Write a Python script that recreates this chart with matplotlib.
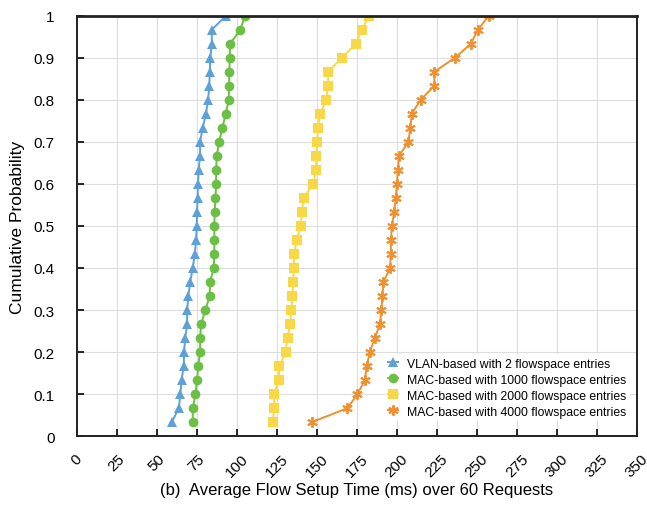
import numpy as np
import matplotlib
matplotlib.use('Agg')
import matplotlib.pyplot as plt

plt.rcParams['font.family'] = ['Liberation Sans', 'DejaVu Sans']

# cumulative probability levels (30 requests per curve)
prob = np.arange(1, 31) / 30.0

# flow setup times (ms), sorted
vlan_2 = [59.4, 63.8, 64.8, 65.5, 66.9, 67.1, 67.8, 69.0, 69.0, 69.8,
          70.9, 72.5, 73.8, 74.6, 75.0, 75.2, 75.5, 75.8, 76.2, 77.1,
          77.1, 78.7, 80.8, 82.1, 82.9, 83.1, 83.5, 84.4, 84.4, 93.3]
mac_1000 = [72.5, 72.5, 74.2, 75.2, 75.9, 77.1, 77.1, 77.7, 80.4, 83.1,
            83.3, 85.6, 86.0, 86.0, 86.0, 86.2, 86.7, 87.1, 87.1, 87.5,
            89.0, 91.0, 93.1, 95.0, 95.2, 95.4, 95.6, 95.8, 102.2, 105.2]
mac_2000 = [122.6, 123.4, 123.4, 126.1, 126.7, 130.5, 131.7, 133.4, 134.0, 134.7,
            135.3, 135.5, 135.9, 137.4, 140.1, 140.7, 141.7, 147.8, 149.6, 149.8,
            150.2, 150.7, 152.1, 155.9, 157.1, 157.1, 165.6, 174.4, 178.1, 182.7]
mac_4000 = [146.9, 169.1, 175.4, 180.0, 181.2, 183.1, 186.2, 189.5, 190.3, 191.0,
            191.6, 195.8, 196.2, 196.4, 196.8, 198.4, 199.3, 200.1, 200.6, 201.4,
            207.2, 208.4, 209.3, 214.9, 223.4, 223.4, 236.3, 246.3, 250.6, 257.5]

labels = ['VLAN-based with 2 flowspace entries',
          'MAC-based with 1000 flowspace entries',
          'MAC-based with 2000 flowspace entries',
          'MAC-based with 4000 flowspace entries']
colors = ['#5fa0d8', '#6cbf45', '#f9d848', '#f0902e']
markers = ['^', 'o', 's', (6, 2, 0)]

fig = plt.figure(figsize=(6.47, 5.06), dpi=100)
ax = fig.add_axes([0.1185, 0.136, 0.866, 0.831])

for data, lab, col, mk in zip([vlan_2, mac_1000, mac_2000, mac_4000], labels, colors, markers):
    if mk == (6, 2, 0):
        ax.plot(data, prob, color=col, marker=mk, markersize=7.5, mew=1.4, lw=1.4, label=lab)
    else:
        ax.plot(data, prob, color=col, marker=mk, markersize=7, mew=0, lw=1.4, label=lab)

ax.set_xlim(0, 350)
ax.set_ylim(0, 1)
ax.set_xticks(np.arange(0, 351, 25))
ax.set_yticks(np.arange(0, 1.01, 0.1))
ax.set_yticklabels(['0', '0.1', '0.2', '0.3', '0.4', '0.5', '0.6', '0.7', '0.8', '0.9', '1'])
ax.grid(True, color='#dddddd', lw=0.8)
ax.set_axisbelow(True)
ax.tick_params(direction='in', length=5, width=1.2, labelsize=11, top=False, right=False)
ax.tick_params(axis='y', pad=16)
plt.setp(ax.get_xticklabels(), rotation=45, ha='center', va='top')
ax.tick_params(axis='x', pad=11)
for s in ax.spines.values():
    s.set_linewidth(1.4)
    s.set_color('#222222')
ax.spines['top'].set_linewidth(2)

ax.set_xlabel('(b)  Average Flow Setup Time (ms) over 60 Requests', fontsize=12)
ax.xaxis.set_label_coords(0.5, -0.108)
ax.set_ylabel('Cumulative Probability', fontsize=12.5, labelpad=6)

leg = ax.legend(loc='upper left', bbox_to_anchor=(0.539, 0.21), fontsize=8.8,
                frameon=True, framealpha=1, edgecolor='none', fancybox=False,
                handlelength=0.8, handletextpad=0.7, labelspacing=0.33, borderpad=0.3)
leg.set_zorder(1.5)

fig.savefig('out.png', dpi=100)
